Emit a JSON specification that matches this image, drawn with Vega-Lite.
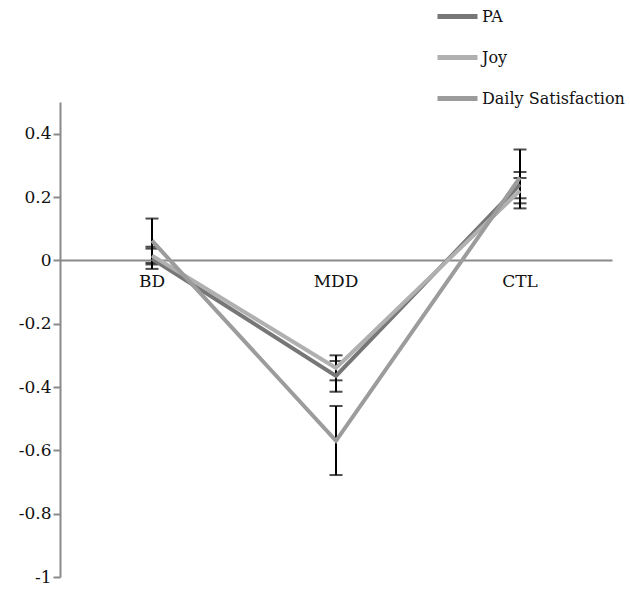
{
  "$schema": "https://vega.github.io/schema/vega-lite/v6.json",
  "width": 552,
  "height": 475,
  "autosize": "none",
  "padding": {"left": 60, "top": 102, "right": 18, "bottom": 17},
  "background": "white",
  "config": {
    "view": {"stroke": null},
    "font": "DejaVu Serif"
  },
  "data": {
    "values": [
      {"group": "BD", "measure": "PA", "mean": 0.005, "lo": -0.027, "hi": 0.037},
      {"group": "BD", "measure": "Joy", "mean": 0.015, "lo": -0.013, "hi": 0.043},
      {"group": "BD", "measure": "Daily Satisfaction", "mean": 0.062, "lo": -0.008, "hi": 0.132},
      {"group": "MDD", "measure": "PA", "mean": -0.365, "lo": -0.415, "hi": -0.318},
      {"group": "MDD", "measure": "Joy", "mean": -0.34, "lo": -0.379, "hi": -0.3},
      {"group": "MDD", "measure": "Daily Satisfaction", "mean": -0.57, "lo": -0.678, "hi": -0.46},
      {"group": "CTL", "measure": "PA", "mean": 0.24, "lo": 0.196, "hi": 0.279},
      {"group": "CTL", "measure": "Joy", "mean": 0.22, "lo": 0.18, "hi": 0.26},
      {"group": "CTL", "measure": "Daily Satisfaction", "mean": 0.262, "lo": 0.164, "hi": 0.35}
    ]
  },
  "encoding": {
    "x": {
      "field": "group",
      "type": "nominal",
      "sort": ["BD", "MDD", "CTL"],
      "scale": {"paddingInner": 0, "paddingOuter": 0},
      "axis": {
        "title": null,
        "labelAngle": 0,
        "offset": -317,
        "domainColor": "#8a8a8a",
        "domainWidth": 2,
        "ticks": false,
        "labelFontSize": 17,
        "labelColor": "#111",
        "labelPadding": 13,
        "labelFont": "DejaVu Serif"
      }
    }
  },
  "layer": [
    {
      "mark": {"type": "rule", "color": "black", "strokeWidth": 2},
      "encoding": {
        "y": {"field": "lo", "type": "quantitative", "scale": {"domain": [-1, 0.5], "nice": false}},
        "y2": {"field": "hi"}
      }
    },
    {
      "mark": {"type": "tick", "color": "black", "thickness": 2, "size": 13, "orient": "horizontal"},
      "encoding": {"y": {"field": "lo", "type": "quantitative"}}
    },
    {
      "mark": {"type": "tick", "color": "black", "thickness": 2, "size": 13, "orient": "horizontal"},
      "encoding": {"y": {"field": "hi", "type": "quantitative"}}
    },
    {
      "mark": {"type": "line", "strokeWidth": 4},
      "encoding": {
        "y": {
          "field": "mean",
          "type": "quantitative",
          "scale": {"domain": [-1, 0.5], "nice": false},
          "axis": {
            "title": null,
            "values": [-1, -0.8, -0.6, -0.4, -0.2, 0, 0.2, 0.4],
            "labelExpr": "'' + datum.value",
            "grid": false,
            "domainColor": "#8a8a8a",
            "domainWidth": 2,
            "tickColor": "#8a8a8a",
            "tickWidth": 2,
            "tickSize": 7,
            "labelFontSize": 17,
            "labelColor": "#111",
            "labelPadding": 2,
            "labelFont": "DejaVu Serif"
          }
        },
        "color": {
          "field": "measure",
          "type": "nominal",
          "sort": ["PA", "Joy", "Daily Satisfaction"],
          "scale": {"domain": ["PA", "Joy", "Daily Satisfaction"], "range": ["#777777", "#b0b0b0", "#9c9c9c"]},
          "legend": {
            "title": null,
            "orient": "none",
            "legendX": 375,
            "legendY": -108,
            "symbolType": "stroke",
            "symbolSize": 1600,
            "symbolStrokeWidth": 5,
            "labelFontSize": 16,
            "labelColor": "#111",
            "labelOffset": 2,
            "rowPadding": 8,
            "labelFont": "DejaVu Serif"
          }
        },
        "order": {"field": "measure"}
      }
    }
  ]
}
